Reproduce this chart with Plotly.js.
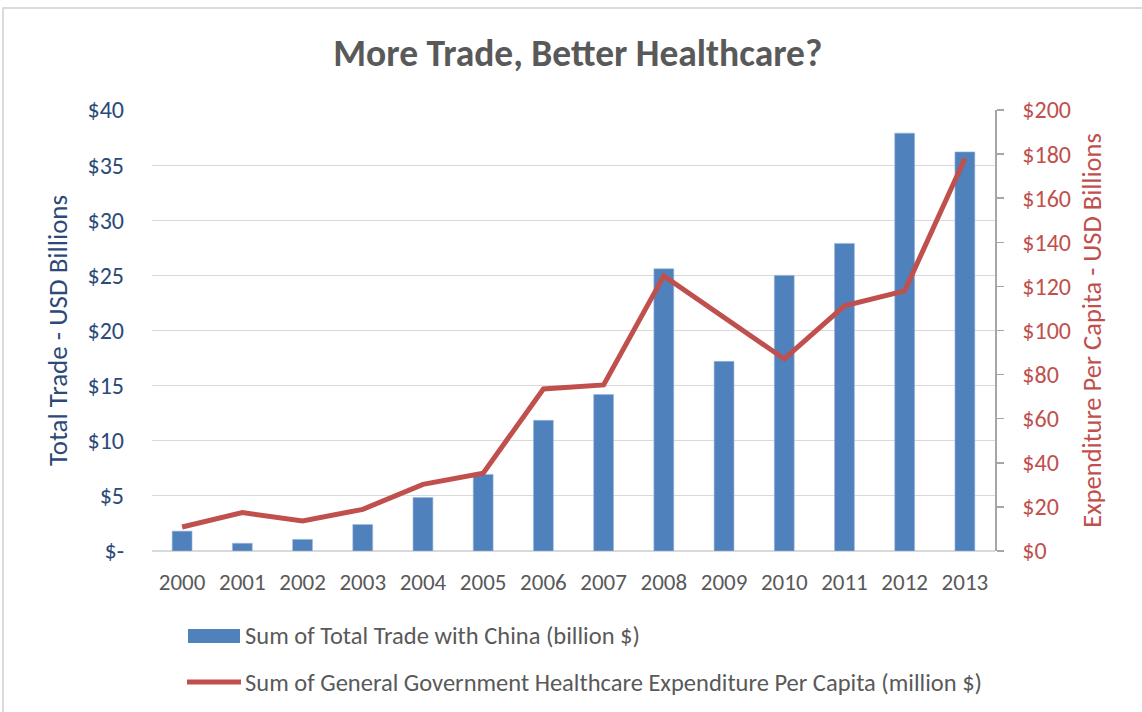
<!DOCTYPE html>
<html>
<head>
<meta charset="utf-8">
<script src="https://cdn.plot.ly/plotly-3.0.1.min.js"></script>
<style>
html,body{margin:0;padding:0;background:#fff;}
#chart{width:1142px;height:712px;}
</style>
</head>
<body>
<div id="chart"></div>
<script>
const years = ["2000","2001","2002","2003","2004","2005","2006","2007","2008","2009","2010","2011","2012","2013"];
const tradeBillions = [1.8, 0.7, 1.05, 2.4, 4.85, 6.95, 11.85, 14.2, 25.6, 17.2, 25.0, 27.9, 37.9, 36.2];
const healthPerCapita = [10.9, 17.4, 13.6, 18.9, 30.2, 35.3, 73.5, 75.3, 124.8, 106, 87.1, 111.2, 118, 178];
const leftTickVals = [0, 5, 10, 15, 20, 25, 30, 35, 40];
const leftTickText = ["$-", "$5", "$10", "$15", "$20", "$25", "$30", "$35", "$40"];
const rightTickVals = [0, 20, 40, 60, 80, 100, 120, 140, 160, 180, 200];
const rightTickText = ["$0", "$20", "$40", "$60", "$80", "$100", "$120", "$140", "$160", "$180", "$200"];
const barName = "Sum of Total Trade with China (billion $)";
const lineName = "Sum of General Government Healthcare Expenditure Per Capita (million $)";

const FONT = "Carlito, 'Liberation Sans Narrow', 'Open Sans', sans-serif";
const BLUE = "#4f81bd", RED = "#c0504d", NAVY = "#2b4a78", GRAY = "#595959";

const traces = [
  {type: "bar", x: years, y: tradeBillions, name: barName, marker: {color: BLUE, line: {color: "#9db7dc", width: 0.6}}, yaxis: "y", showlegend: false},
  {type: "scatter", mode: "lines", x: years, y: healthPerCapita, name: lineName, line: {color: RED, width: 5}, yaxis: "y2", showlegend: false}
];

// plot area in pixels: x 152..995, y 110..551
const px = v => (v - 152) / 843;
const py = v => (551 - v) / 441;

const layout = {
  width: 1142, height: 712,
  margin: {l: 152, r: 147, t: 110, b: 161},
  paper_bgcolor: "#fff", plot_bgcolor: "#fff",
  font: {family: FONT, color: GRAY, size: 23},
  bargap: 0.67,
  title: {text: "More Trade, Better Healthcare?", font: {family: FONT, size: 37.5, color: GRAY, weight: "bold"}, xref: "container", x: 0.506, xanchor: "center", yref: "container", y: 1 - 53/712, yanchor: "middle"},
  xaxis: {type: "category", showgrid: false, showline: false, ticks: "", tickfont: {size: 23, color: GRAY}, ticklabelstandoff: 15, fixedrange: true},
  yaxis: {range: [0, 40], tickvals: leftTickVals, ticktext: leftTickText, showgrid: true, gridcolor: "#d9d9d9", gridwidth: 1.2, zeroline: true, zerolinecolor: "#d9d9d9", zerolinewidth: 1.2, showline: false, ticks: "", tickfont: {size: 24, color: NAVY}, ticklabelstandoff: 27,
          title: {text: "Total Trade - USD Billions", font: {size: 27, color: NAVY}, standoff: 12}},
  yaxis2: {range: [0, 200], overlaying: "y", side: "right", tickvals: rightTickVals, ticktext: rightTickText, showgrid: false, zeroline: false, showline: true, linecolor: "#a6a6a6", linewidth: 1.5, ticks: "outside", ticklen: 7, tickcolor: "#a6a6a6", tickwidth: 1.5, tickfont: {size: 24, color: RED}, ticklabelstandoff: 14,
           title: {text: "Expenditure Per Capita - USD Billions", font: {size: 26.5, color: RED}, standoff: 12}},
  shapes: [
    {type: "rect", xref: "paper", yref: "paper", x0: px(3), x1: px(1160), y0: py(730), y1: py(8), line: {color: "#d0d0d0", width: 1.5}, fillcolor: "rgba(0,0,0,0)", layer: "below"},
    {type: "rect", xref: "paper", yref: "paper", x0: px(188), x1: px(240), y0: py(643), y1: py(629), line: {width: 0}, fillcolor: BLUE},
    {type: "line", xref: "paper", yref: "paper", x0: px(187), x1: px(241), y0: py(682), y1: py(682), line: {color: RED, width: 5}}
  ],
  annotations: [
    {xref: "paper", yref: "paper", x: px(243), y: py(636), xanchor: "left", yanchor: "middle", text: barName, showarrow: false, font: {size: 24.5, color: GRAY}},
    {xref: "paper", yref: "paper", x: px(243), y: py(683), xanchor: "left", yanchor: "middle", text: lineName, showarrow: false, font: {size: 24.5, color: GRAY}}
  ]
};

Plotly.newPlot("chart", traces, layout, {displayModeBar: false, staticPlot: true});
</script>
</body>
</html>
